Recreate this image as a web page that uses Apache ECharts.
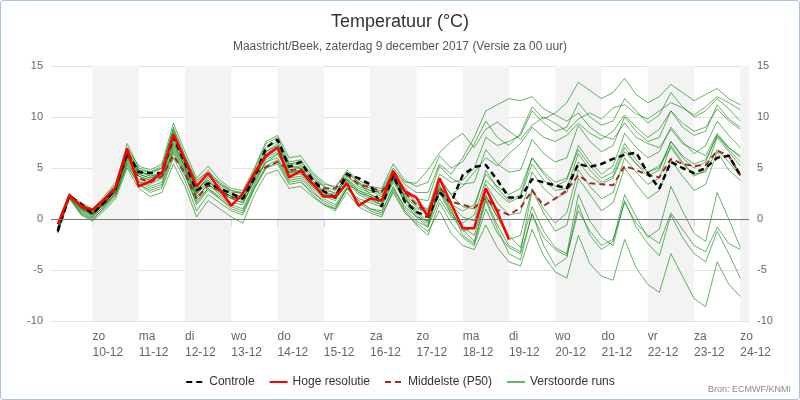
<!DOCTYPE html>
<html>
<head>
<meta charset="utf-8">
<script src="https://cdn.jsdelivr.net/npm/echarts@6/dist/echarts.min.js"></script>
<style>
  body { margin: 0; }
  #chart { width: 798px; height: 398px; border: 1px solid #a8c4e4; border-radius: 3px; }
</style>
</head>
<body>
<div id="chart"></div>
<script>
// uren vanaf zo 10-12 00 uur, elke 6 uur
let hours = [];
for (let h = -18; h <= 336; h += 6) hours.push(h);

let dayTicks = [0, 24, 48, 72, 96, 120, 144, 168, 192, 216, 240, 264, 288, 312, 336];
let dayLabels = ['zo\n10-12', 'ma\n11-12', 'di\n12-12', 'wo\n13-12', 'do\n14-12', 'vr\n15-12', 'za\n16-12',
    'zo\n17-12', 'ma\n18-12', 'di\n19-12', 'wo\n20-12', 'do\n21-12', 'vr\n22-12', 'za\n23-12', 'zo\n24-12'];

let controle = [-1.2, 2.3, 1.5, 0.5, 1.6, 3.0, 6.5, 4.6, 4.5, 4.5, 8.0, 5.5, 2.8, 3.5, 3.0, 2.5, 2.0, 4.0, 7.0, 7.8,
    5.1, 5.6, 3.9, 2.7, 2.1, 4.4, 4.0, 3.4, 1.2, 4.3, 1.7, 0.7, 0.2, 2.6, 1.6, 4.3, 5.1, 5.3, 3.8, 2.1,
    2.1, 3.9, 3.6, 3.3, 3.0, 5.4, 5.1, 5.4, 5.9, 6.3, 6.5, 4.5, 3.0, 5.6, 5.0, 4.5, 5.0, 6.0, 6.2, 4.3];

let hogeResolutie = [-0.5, 2.3, 1.3, 0.9, 1.9, 3.1, 6.9, 3.2, 3.7, 4.5, 8.3, 5.8, 3.2, 4.5, 2.9, 1.3, 2.5, 4.5, 6.2, 7.0,
    4.1, 4.7, 3.5, 2.2, 2.2, 3.5, 1.3, 2.0, 1.8, 4.7, 2.7, 2.1, 0.2, 4.0, 1.5, -0.9, -0.9, 3.0, 0.7, -2.0];

let middelste = [-1.0, 2.2, 1.2, 0.5, 1.6, 2.8, 6.2, 4.0, 3.6, 4.2, 6.2, 4.5, 2.0, 3.3, 2.8, 2.1, 2.0, 4.4, 5.1, 5.6,
    4.8, 4.9, 3.8, 3.0, 3.0, 4.4, 3.4, 3.1, 2.7, 4.2, 2.6, 1.4, 0.6, 3.1, 1.7, 1.4, 1.1, 2.1, 0.9, 0.4,
    1.1, 2.8, 1.3, 2.0, 2.8, 4.3, 3.5, 3.4, 3.3, 5.2, 4.8, 4.3, 4.1, 5.9, 5.4, 5.2, 5.3, 6.7, 6.2, 4.3];

let runs = [
    [-1.0,2.4,1.0,0.3,1.2,2.6,6.0,4.2,3.8,4.0,7.2,5.0,2.5,3.8,2.6,2.0,1.6,3.8,5.5,6.4,4.5,4.8,3.6,2.8,2.6,3.9,3.0,2.6,2.8,5.0,3.6,3.5,4.8,6.5,7.6,8.4,7.0,8.8,9.5,8.6,7.8,9.2,10.0,9.4,8.6,9.8,10.4,9.8,10.9,11.2,10.3,9.8,10.6,11.4,10.9,10.2,11.0,12.0,11.4,10.7],
    [-1.1,2.2,0.6,0.0,1.0,2.2,5.6,3.6,3.0,3.4,6.8,4.6,1.8,3.0,2.2,1.4,1.0,3.4,5.6,6.0,4.0,4.2,3.0,2.0,1.4,3.2,1.6,0.8,0.4,2.6,0.6,-0.4,-1.2,0.8,-1.4,-2.6,-3.0,-0.6,-2.8,-4.2,-4.6,-1.0,-3.6,-5.2,-5.8,-1.6,-4.4,-5.6,-6.0,-2.0,-4.8,-6.4,-7.2,-3.4,-5.6,-7.8,-8.6,-4.2,-6.4,-7.6],
    [-1.3,2.5,1.4,0.8,2.0,3.4,7.4,5.0,4.6,5.0,9.0,6.2,3.6,4.8,3.4,2.8,2.4,4.8,7.4,8.0,5.6,5.8,4.2,3.2,2.4,4.6,3.6,2.4,1.8,4.4,2.0,0.4,-0.6,2.6,0.4,-1.2,-0.8,2.4,0.2,-2.0,-1.6,3.0,1.0,-0.4,0.6,4.8,3.2,2.0,2.6,6.0,4.6,3.4,4.0,7.2,5.6,4.2,4.8,8.0,6.6,5.2],
    [-0.8,2.3,1.2,0.6,1.4,2.4,5.2,3.4,2.6,3.0,6.0,3.8,0.8,2.4,1.6,0.8,0.4,3.0,5.0,5.4,3.4,3.6,2.6,1.8,1.2,3.0,2.0,1.6,1.2,3.6,1.8,1.0,0.8,3.8,2.4,3.2,4.6,6.0,5.2,6.4,7.4,9.0,8.0,7.6,8.2,9.4,8.4,7.8,8.6,10.2,9.0,8.0,8.8,10.6,9.4,8.6,9.0,10.8,9.6,8.8],
    [-1.2,2.1,0.8,0.2,1.6,3.0,6.6,4.4,4.0,4.6,8.4,5.6,3.0,3.8,2.8,2.2,1.8,4.2,6.4,7.2,5.0,5.2,3.8,2.6,2.0,3.8,2.6,2.2,1.6,4.0,1.6,0.2,-0.8,3.4,1.0,-1.6,-2.4,1.8,-1.0,-3.4,-4.0,0.6,-2.6,-4.6,-3.8,1.4,-1.6,-3.0,-2.2,2.4,0.2,-1.8,-1.0,3.2,0.8,-1.4,-2.2,2.6,0.0,-2.8],
    [-1.0,2.4,1.6,1.0,2.2,3.6,7.0,5.2,4.8,5.4,9.4,6.6,4.0,5.2,3.8,3.0,2.8,5.0,7.6,8.2,6.0,6.2,4.6,3.6,3.0,4.8,3.8,3.2,3.0,5.4,3.8,3.2,3.6,6.2,5.0,5.6,7.4,9.6,8.0,7.2,8.4,11.0,9.8,10.4,11.4,13.4,12.6,11.8,12.4,13.8,12.2,11.4,12.0,13.2,12.4,11.6,12.2,12.8,11.8,11.2],
    [-1.1,2.3,0.9,0.4,1.8,3.2,6.8,4.8,4.2,4.4,8.6,5.8,2.6,4.2,3.2,2.4,2.2,4.4,6.6,7.4,5.2,5.0,3.4,2.4,2.2,4.2,3.2,2.8,2.2,4.6,2.8,1.6,0.8,4.0,2.4,1.2,1.0,4.8,3.0,1.8,2.4,6.0,4.4,3.2,3.8,7.2,5.6,4.4,5.2,8.4,7.0,6.0,6.6,9.0,7.6,6.4,7.2,9.6,8.2,7.0],
    [-1.4,2.0,0.4,-0.2,0.8,2.0,5.0,3.0,2.2,2.6,5.4,3.2,0.2,1.8,1.0,0.2,-0.4,2.4,4.4,4.8,3.0,3.2,2.2,1.4,0.8,2.6,1.2,0.6,0.2,2.8,0.8,-0.6,-1.6,1.6,-0.4,-1.8,-2.6,1.0,-1.4,-2.8,-3.4,0.4,-1.8,-3.0,-3.6,0.8,-1.2,-2.6,-2.0,1.6,-0.4,-1.6,-2.4,0.6,-1.0,-2.6,-3.2,-0.8,-2.4,-3.0],
    [-0.9,2.5,1.3,0.7,1.8,3.2,6.4,4.6,4.4,5.0,7.8,5.4,3.4,4.4,3.4,2.6,2.6,4.4,6.0,7.0,5.4,5.6,4.4,3.4,3.2,4.6,3.6,3.0,2.4,4.8,3.4,2.6,2.6,5.4,4.4,6.0,8.0,10.6,11.2,11.8,11.6,12.0,10.8,10.2,9.6,10.4,9.0,8.2,7.8,9.4,8.0,7.4,7.0,8.8,7.4,6.8,6.2,8.4,7.0,6.2],
    [-1.2,2.2,1.1,0.5,1.4,2.8,6.2,3.8,3.2,3.6,7.0,4.8,2.2,3.4,2.4,1.6,1.4,4.0,6.0,6.6,4.6,4.6,3.2,2.2,1.8,3.6,2.4,1.8,1.4,3.8,2.2,1.2,0.4,3.2,1.4,0.2,-0.2,3.4,1.6,0.4,0.6,4.6,3.0,2.0,2.6,5.6,4.2,3.4,4.0,6.6,5.4,4.6,5.0,7.6,6.2,5.4,5.8,8.2,7.0,6.0],
    [-1.0,2.3,1.0,0.4,1.6,2.8,6.0,4.2,3.8,4.2,7.6,5.0,2.0,3.4,2.6,2.0,1.6,3.6,5.8,6.4,4.4,4.4,3.2,2.6,2.2,3.4,2.8,2.4,2.0,4.0,2.0,0.8,-0.2,2.8,0.6,-0.8,-1.6,2.2,0.2,-1.6,-2.8,1.2,-1.2,-2.8,-3.4,2.4,-0.2,-1.8,-2.6,1.8,-0.8,-2.4,-3.6,0.4,-1.8,-3.4,-4.2,-1.2,-3.4,-5.8],
    [-1.3,2.4,1.4,0.8,2.0,3.2,6.8,4.8,4.6,5.2,8.8,6.0,3.8,4.6,3.6,2.8,2.6,4.6,7.0,7.6,5.4,5.4,4.0,3.2,2.8,4.2,3.4,2.8,2.6,4.6,3.0,2.0,1.8,5.2,4.0,3.4,3.6,6.8,5.4,4.6,4.8,7.8,6.4,5.6,6.0,9.2,7.6,6.6,7.2,10.0,8.6,7.6,8.0,10.6,9.0,8.2,8.6,11.2,9.8,9.0],
    [-1.1,2.2,0.7,0.1,1.3,2.6,5.8,3.6,3.4,4.0,6.6,4.4,1.4,2.8,2.0,1.2,0.8,3.2,5.2,5.8,3.8,4.0,2.8,1.6,1.0,3.0,1.8,1.0,0.6,3.2,1.0,-0.2,-0.8,2.0,0.2,-0.4,0.4,3.8,2.6,1.6,2.2,5.4,3.8,2.8,3.0,6.4,4.8,3.6,4.2,7.0,5.4,4.2,4.8,7.6,6.0,5.0,5.6,8.2,6.8,5.6],
    [-1.2,2.3,1.2,0.6,1.7,3.0,6.6,4.6,4.2,4.6,8.0,5.4,2.8,4.0,3.0,2.2,2.0,4.2,6.6,7.2,4.8,5.0,3.6,2.6,2.4,4.0,2.8,2.2,1.8,4.4,2.4,1.4,1.0,4.4,3.6,3.8,5.0,8.0,7.2,7.6,8.2,10.6,9.4,8.6,9.0,11.4,10.0,9.2,9.6,11.8,10.6,9.4,10.2,12.4,11.0,10.0,10.6,11.8,10.8,9.6],
    [-1.0,2.4,1.1,0.5,1.5,2.8,6.4,4.4,4.0,4.4,7.4,5.2,2.4,3.6,2.8,2.2,2.0,4.0,6.2,6.8,4.6,4.8,3.4,2.4,2.0,3.8,2.6,2.0,1.4,4.2,2.2,0.6,-0.4,3.0,0.8,-1.0,-2.2,2.0,-0.6,-2.6,-3.2,2.8,0.6,-1.2,-0.6,4.0,2.4,0.8,1.6,5.0,3.4,2.0,2.8,5.8,4.2,2.8,3.4,6.6,4.8,3.8],
    [-1.3,2.1,0.5,-0.1,1.1,2.4,5.4,3.4,2.8,3.2,6.4,4.2,1.6,3.0,2.0,1.0,0.6,3.0,5.0,5.6,3.6,3.8,2.4,1.4,1.0,3.0,1.8,1.0,0.8,3.0,1.2,0.2,-0.2,2.6,1.4,0.8,1.4,4.4,3.2,2.4,3.0,6.0,4.6,3.6,4.0,6.8,5.2,4.0,4.6,7.4,5.8,4.6,5.2,7.0,5.4,4.4,4.6,6.8,5.6,4.2]
];

function pairs(values) {
    return values.map((v, i) => [hours[i], v]);
}

// grijze banden om de andere dag
let bands = [];
for (let i = 0; i < dayTicks.length; i += 2) {
    bands.push([{ xAxis: dayTicks[i] }, { xAxis: Math.min(dayTicks[i] + 24, 340.5) }]);
}

let font = 'Liberation Sans';

let series = [];
runs.forEach((r, i) => {
    series.push({
        name: 'Verstoorde runs',
        type: 'line',
        data: pairs(r),
        symbol: 'none',
        silent: true,
        color: '#008000',
        lineStyle: { width: 1, color: 'rgba(0,128,0,0.6)' },
        markArea: i === 0 ? { silent: true, itemStyle: { color: '#f3f3f3' }, data: bands } : undefined,
        markLine: i === 0 ? {
            silent: true, symbol: 'none', label: { show: false },
            lineStyle: { color: '#777', type: 'solid', width: 1 },
            data: [{ yAxis: 0 }]
        } : undefined
    });
});

series.push({
    name: 'Middelste (P50)', type: 'line', data: pairs(middelste), symbol: 'none', color: '#a52a2a',
    lineStyle: { width: 2, type: [6, 4], color: '#a52a2a' }
});
series.push({
    name: 'Controle', type: 'line', data: pairs(controle), symbol: 'none', color: '#000',
    lineStyle: { width: 2.5, type: [6, 4], color: '#000' }
});
series.push({
    name: 'Hoge resolutie', type: 'line', data: pairs(hogeResolutie), symbol: 'none', color: '#ff0000',
    lineStyle: { width: 2.5, color: '#ff0000' }
});

let yAxisBase = {
    type: 'value', min: -10, max: 15, interval: 5,
    axisLine: { show: false }, axisTick: { show: false },
    axisLabel: { color: '#666', fontSize: 11, fontFamily: font },
    splitLine: { lineStyle: { color: '#e2e2e2' } }
};

let option = {
    animation: false,
    title: {
        text: 'Temperatuur (°C)',
        subtext: 'Maastricht/Beek, zaterdag 9 december 2017 (Versie za 00 uur)',
        left: 'center', top: 7, itemGap: 10,
        textStyle: { fontSize: 18, fontWeight: 'normal', color: '#333', fontFamily: font },
        subtextStyle: { fontSize: 12, color: '#555', fontFamily: font }
    },
    grid: { left: 50, right: 50, top: 65, bottom: 78 },
    legend: {
        top: 370, left: 'center', itemWidth: 18, itemHeight: 3, itemGap: 14,
        itemStyle: { opacity: 0 },
        data: ['Controle', 'Hoge resolutie', 'Middelste (P50)', 'Verstoorde runs'],
        textStyle: { fontSize: 12, color: '#333', fontFamily: font }
    },
    xAxis: {
        type: 'value', min: -21.5, max: 340.5,
        axisLine: { lineStyle: { color: '#c4d0e6' } },
        axisTick: { show: true, length: 8, customValues: dayTicks, lineStyle: { color: '#c4d0e6' } },
        axisLabel: {
            customValues: dayTicks, align: 'left', color: '#666', fontSize: 12, lineHeight: 16,
            fontFamily: font, margin: 8,
            formatter: v => dayLabels[dayTicks.indexOf(v)]
        },
        splitLine: { show: false }
    },
    yAxis: [
        Object.assign({}, yAxisBase, { position: 'left' }),
        Object.assign({}, yAxisBase, { position: 'right', splitLine: { show: false } })
    ],
    graphic: [{
        type: 'text', right: 8, bottom: 5,
        style: { text: 'Bron: ECMWF/KNMI', fontSize: 9, fill: '#888', fontFamily: font }
    }],
    series: series
};

let myChart = echarts.init(document.getElementById('chart'));
myChart.setOption(option);
</script>
</body>
</html>
